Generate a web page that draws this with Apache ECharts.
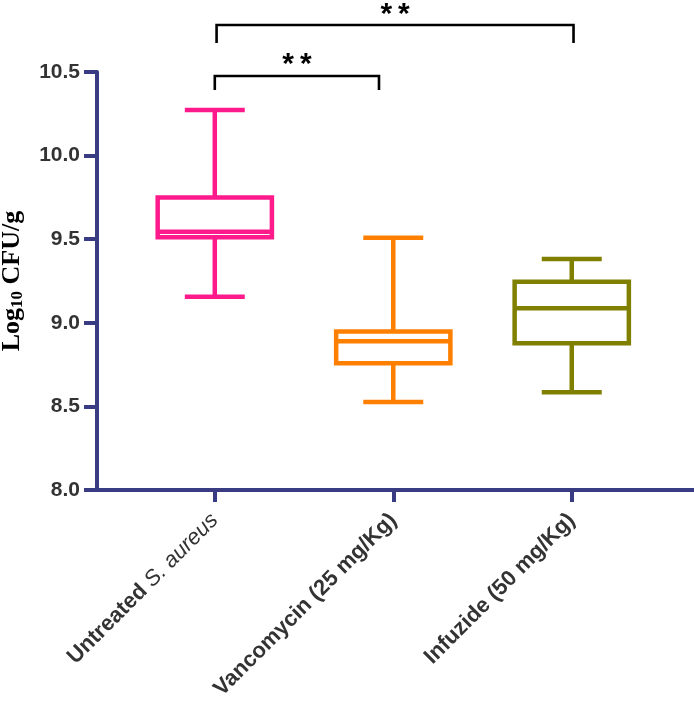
<!DOCTYPE html>
<html>
<head>
<meta charset="utf-8">
<script src="https://cdn.jsdelivr.net/npm/echarts@6/dist/echarts.min.js"></script>
<style>
html,body{margin:0;padding:0;background:#fff;}
#c{width:694px;height:702px;}
</style>
</head>
<body>
<div id="c"></div>
<script>
// ---- data ----
const categories = ['Untreated S. aureus', 'Vancomycin (25 mg/Kg)', 'Infuzide (50 mg/Kg)'];
const whiskerLow  = [9.156, 8.526, 8.584];
const q1          = [9.511, 8.758, 8.877];
const median      = [9.545, 8.889, 9.087];
const q3          = [9.750, 8.948, 9.246];
const whiskerHigh = [10.273, 9.509, 9.382];
const yTicks = [8.0, 8.5, 9.0, 9.5, 10.0, 10.5];
const comparisons = [
  { from: 0, to: 2, label: '*\u2009*' },
  { from: 0, to: 1, label: '*\u2009*' }
];

// ---- styles ----
const boxColors = ['#ff1a8c', '#ff8000', '#808000'];
const axisColor = '#393c82';
const bracketLayout = [
  { lineY: 10.781, legY: 10.673, x1: 1.01, x2: 3.01, textY: 10.845 },
  { lineY: 10.476, legY: 10.392, x1: 1.0, x2: 1.92, textY: 10.545 }
];

const chart = echarts.init(document.getElementById('c'), null, { renderer: 'canvas' });

const boxData = categories.map((c, i) => [i + 1, whiskerLow[i], q1[i], median[i], q3[i], whiskerHigh[i]]);
const bracketData = comparisons.map((c, i) => [i]);

const option = {
  animation: false,
  backgroundColor: '#ffffff',
  grid: { left: 97, right: 0, top: 72, bottom: 212, containLabel: false, outerBoundsMode: 'none' },
  xAxis: {
    type: 'value',
    min: 0.34,
    max: 3.685,
    splitLine: { show: false },
    axisLine: { show: true, lineStyle: { color: axisColor, width: 4 } },
    axisTick: { show: true, customValues: [1, 2, 3], length: 12, lineStyle: { color: axisColor, width: 4 } },
    axisLabel: {
      customValues: [1, 2, 3],
      rotate: 45,
      margin: 27,
      color: '#333333',
      fontFamily: 'Liberation Sans, Arial, sans-serif',
      fontSize: 22,
      fontWeight: 'bold',
      formatter: function (v) {
        const name = categories[Math.round(v) - 1] || '';
        if (name.indexOf('S. aureus') >= 0) {
          return '{b|' + name.replace('S. aureus', '') + '}{i|S. aureus}';
        }
        return '{b|' + name + '}';
      },
      rich: {
        b: { fontFamily: 'Liberation Sans, Arial, sans-serif', fontSize: 22, fontWeight: 'bold', color: '#333333' },
        i: { fontFamily: 'Liberation Sans, Arial, sans-serif', fontSize: 22, fontWeight: 'normal', fontStyle: 'italic', color: '#333333' }
      }
    }
  },
  yAxis: {
    type: 'value',
    min: yTicks[0],
    max: yTicks[yTicks.length - 1],
    interval: 0.5,
    splitLine: { show: false },
    axisLine: { show: true, lineStyle: { color: axisColor, width: 4 } },
    axisTick: { show: true, length: 13, lineStyle: { color: axisColor, width: 4 } },
    axisLabel: {
      margin: 17,
      color: '#333333',
      fontFamily: 'Liberation Sans, Arial, sans-serif',
      fontSize: 21,
      fontWeight: 'bold',
      formatter: function (v) { return v.toFixed(1); }
    },
    name: '{a|Log}{s|10}{a| CFU/g}',
    nameLocation: 'middle',
    nameGap: 71,
    nameTextStyle: {
      rich: {
        a: { fontFamily: 'Liberation Serif, Times New Roman, serif', fontSize: 26, fontWeight: 'bold', color: '#000000' },
        s: { fontFamily: 'Liberation Serif, Times New Roman, serif', fontSize: 17, fontWeight: 'bold', color: '#000000', verticalAlign: 'bottom', padding: [10, 0, 0, 0] }
      }
    }
  },
  series: [
    {
      type: 'custom',
      name: 'box',
      data: boxData,
      clip: false,
      renderItem: function (params, api) {
        const x = api.value(0);
        const lo = api.value(1), a = api.value(2), m = api.value(3), b = api.value(4), hi = api.value(5);
        const color = boxColors[params.dataIndex];
        const halfBox = 0.32, halfCap = 0.168;
        const pBL = api.coord([x - halfBox, a]);
        const pTR = api.coord([x + halfBox, b]);
        const pMedL = api.coord([x - halfBox, m]);
        const pMedR = api.coord([x + halfBox, m]);
        const pLo = api.coord([x, lo]);
        const pHi = api.coord([x, hi]);
        const pQ1 = api.coord([x, a]);
        const pQ3 = api.coord([x, b]);
        const capL = api.coord([x - halfCap, lo]);
        const capR = api.coord([x + halfCap, lo]);
        const capL2 = api.coord([x - halfCap, hi]);
        const capR2 = api.coord([x + halfCap, hi]);
        const st = { stroke: color, lineWidth: 4.5, fill: null };
        return {
          type: 'group',
          children: [
            { type: 'line', shape: { x1: pQ3[0], y1: pQ3[1], x2: pHi[0], y2: pHi[1] }, style: st },
            { type: 'line', shape: { x1: pQ1[0], y1: pQ1[1], x2: pLo[0], y2: pLo[1] }, style: st },
            { type: 'line', shape: { x1: capL[0], y1: capL[1], x2: capR[0], y2: capR[1] }, style: st },
            { type: 'line', shape: { x1: capL2[0], y1: capL2[1], x2: capR2[0], y2: capR2[1] }, style: st },
            { type: 'rect', shape: { x: pBL[0], y: pTR[1], width: pTR[0] - pBL[0], height: pBL[1] - pTR[1] }, style: { stroke: color, lineWidth: 4.5, fill: '#ffffff' } },
            { type: 'line', shape: { x1: pMedL[0], y1: pMedL[1], x2: pMedR[0], y2: pMedR[1] }, style: st }
          ]
        };
      }
    },
    {
      type: 'custom',
      name: 'significance',
      data: bracketData,
      clip: false,
      renderItem: function (params, api) {
        const L = bracketLayout[params.dataIndex];
        const c = comparisons[params.dataIndex];
        const pL = api.coord([L.x1, L.lineY]);
        const pR = api.coord([L.x2, L.lineY]);
        const pLb = api.coord([L.x1, L.legY]);
        const pRb = api.coord([L.x2, L.legY]);
        const pT = api.coord([(L.x1 + L.x2) / 2, L.textY]);
        return {
          type: 'group',
          children: [
            { type: 'polyline', shape: { points: [pLb, pL, pR, pRb] }, style: { stroke: '#000000', lineWidth: 2.6, fill: null } },
            { type: 'text', x: pT[0], y: pT[1], style: { text: c.label, fill: '#000000', font: 'bold 30px Liberation Sans, Arial, sans-serif', align: 'center', verticalAlign: 'middle' } }
          ]
        };
      }
    }
  ]
};
chart.setOption(option);
</script>
</body>
</html>
